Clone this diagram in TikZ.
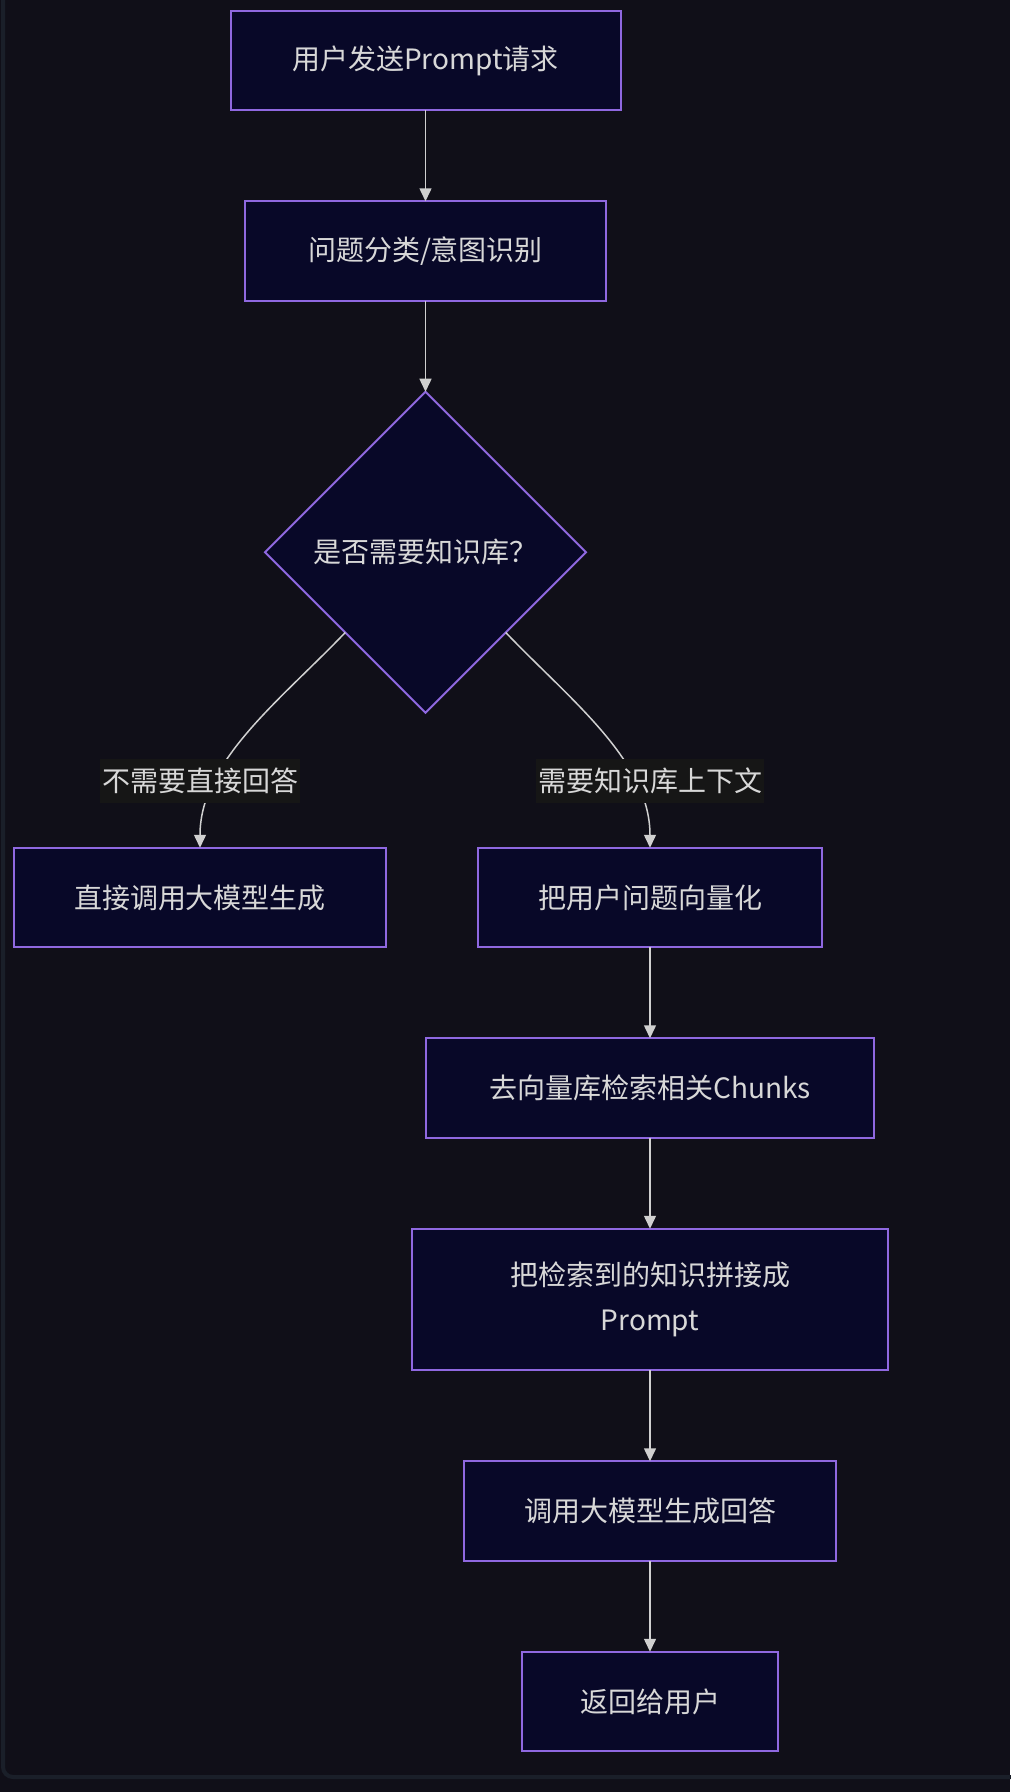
\documentclass[tikz,border=0pt]{standalone}
\usepackage{fontspec}
\setmainfont{Noto Sans CJK SC}
\usetikzlibrary{positioning,shapes.geometric,arrows.meta}
\definecolor{bgcol}{HTML}{100F18}
\definecolor{framecol}{HTML}{1A1F29}
\definecolor{boxfill}{HTML}{080828}
\definecolor{boxline}{HTML}{8F68E0}
\definecolor{txtcol}{HTML}{D8D8D8}
\definecolor{linecol}{HTML}{D0D0D0}
\definecolor{lblfill}{HTML}{161616}

\begin{document}
\begin{tikzpicture}[x=1pt, y=1pt,
				stepbox/.style={rectangle, draw=boxline, fill=boxfill, line width=2pt, outer sep=0pt, minimum height=99.5pt, inner sep=0pt, align=center, text=txtcol, font=\fontsize{28}{45}\selectfont},
				decision/.style={diamond, aspect=1, draw=boxline, fill=boxfill, line width=2pt, outer sep=0pt, minimum width=321pt, minimum height=321pt, inner sep=0pt, text=txtcol, font=\fontsize{28}{45}\selectfont},
				lbl/.style={rectangle, fill=lblfill, outer sep=0pt, inner xsep=2pt, inner ysep=0pt, minimum height=44pt, text=txtcol, font=\fontsize{28}{45}\selectfont},
				node distance=91pt
			]
			\fill[bgcol] (0,0) rectangle (1010,-1792);
			\useasboundingbox (0,0) rectangle (1010,-1792);
			\draw[framecol, line width=4pt, rounded corners=10pt] (3,40) rectangle (1040,-1777);
			\node[stepbox, minimum width=390pt] (send) at (425.5,-60.5) {用户发送Prompt请求};
			\node[stepbox, minimum width=361pt] (classify) [below=of send] {问题分类/意图识别};
			\node[decision] (needkb) [below=of classify] {是否需要知识库？};
			\node[stepbox, minimum width=372.5pt] (direct) [below=135pt of needkb, xshift=-225.5pt] {直接调用大模型生成};
			\node[stepbox, minimum width=344pt] (embed) [below=135pt of needkb, xshift=224.5pt] {把用户问题向量化};
			\node[stepbox, minimum width=448pt] (search) [below=of embed] {去向量库检索相关Chunks};
			\node[stepbox, minimum width=476pt, minimum height=141.5pt] (concat) [below=of search] {把检索到的知识拼接成\\Prompt};
			\node[stepbox, minimum width=372pt] (answer) [below=of concat] {调用大模型生成回答};
			\node[stepbox, minimum width=256pt] (reply) [below=of answer] {返回给用户};
			\begin{scope}[linecol, line width=1.5pt, -{Triangle[length=13pt,width=12pt]}]
			\draw (send) -- (classify);
			\draw (classify) -- (needkb);
			\draw (needkb.south west) .. controls +(-65,-68) and +(0,87) .. (direct.north);
			\draw (needkb.south east) .. controls +(65,-68) and +(0,87) .. (embed.north);
			\draw (embed) -- (search);
			\draw (search) -- (concat);
			\draw (concat) -- (answer);
			\draw (answer) -- (reply);
			\end{scope}
			\node[lbl] (nolbl) [above=45pt of direct] {不需要直接回答};
			\node[lbl] (yeslbl) [above=45pt of embed] {需要知识库上下文};
			\end{tikzpicture}
\end{document}
